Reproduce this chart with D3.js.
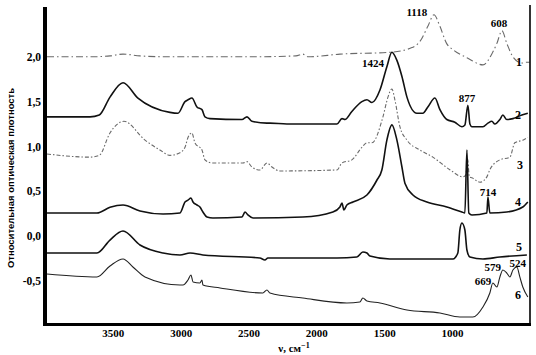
<!DOCTYPE html>
<html>
<head>
<meta charset="utf-8">
<script src="https://cdn.jsdelivr.net/npm/d3@7"></script>
<style>
  html, body { margin: 0; padding: 0; background: #fff; }
  svg { display: block; }
</style>
</head>
<body>
<svg id="chart" width="536" height="355"></svg>
<script>
// Spectra: [wavenumber, relative optical density]
var spec1 = [[3985,2.00],[3668,2.00],[3520,2.01],[3425,2.03],[3300,2.01],[3079,2.00],[2500,2.00],[2150,2.01],[2100,2.03],[2060,2.00],
  [1826,2.03],[1458,2.05],[1300,2.10],[1237,2.17],[1178,2.34],[1133,2.47],[1089,2.34],[1040,2.15],[993,2.08],[890,1.99],[772,1.91],
  [700,2.05],[669,2.15],[632,2.29],[596,2.15],[551,2.00],[485,1.93],[448,1.94],[428,1.94]];
var spec2 = [[3985,1.33],[3668,1.33],[3600,1.35],[3521,1.55],[3425,1.71],[3315,1.54],[3079,1.38],[3020,1.37],[2968,1.50],[2946,1.52],
  [2917,1.54],[2880,1.44],[2843,1.41],[2821,1.33],[2784,1.31],[2548,1.30],[2511,1.33],[2475,1.28],[2364,1.26],[2342,1.26],
  [2217,1.25],[1848,1.25],[1811,1.31],[1789,1.30],[1738,1.39],[1664,1.50],[1627,1.52],[1590,1.49],[1531,1.63],[1480,1.89],
  [1443,2.05],[1406,1.96],[1369,1.78],[1332,1.55],[1259,1.37],[1215,1.37],[1178,1.44],[1126,1.54],[1089,1.41],[1038,1.30],
  [979,1.27],[927,1.22],[905,1.24],[883,1.46],[868,1.25],[853,1.22],[772,1.22],[735,1.26],[706,1.28],[684,1.25],[647,1.30],
  [625,1.35],[596,1.30],[551,1.31],[485,1.35],[441,1.37]];
var spec3 = [[3985,0.915],[3668,0.88],[3600,0.90],[3521,1.15],[3418,1.28],[3263,1.07],[3153,0.96],[3079,0.90],[3005,0.93],
  [2968,0.99],[2946,1.10],[2917,1.15],[2895,1.04],[2843,0.96],[2821,0.85],[2769,0.815],[2541,0.815],[2511,0.83],[2475,0.77],
  [2416,0.737],[2364,0.815],[2327,0.77],[2268,0.726],[1848,0.737],[1811,0.815],[1738,0.85],[1664,0.99],[1627,1.04],[1590,1.04],
  [1509,1.33],[1472,1.55],[1443,1.64],[1421,1.52],[1384,1.22],[1332,1.07],[1237,0.96],[1141,0.88],[1016,0.74],[920,0.66],
  [898,0.68],[885,0.86],[872,0.66],[853,0.65],[794,0.60],[743,0.66],[721,0.74],[647,0.85],[573,0.88],[537,1.04],[478,1.07],[441,1.10]];
var spec4 = [[3985,0.257],[3617,0.257],[3521,0.32],[3425,0.346],[3300,0.28],[3130,0.246],[3005,0.257],[2968,0.38],[2946,0.40],
  [2924,0.424],[2909,0.38],[2880,0.346],[2858,0.324],[2836,0.268],[2806,0.212],[2762,0.201],[2548,0.212],[2526,0.268],
  [2504,0.235],[2467,0.201],[2099,0.212],[1878,0.268],[1826,0.324],[1811,0.369],[1797,0.29],[1775,0.346],[1730,0.38],
  [1627,0.458],[1553,0.625],[1517,0.737],[1480,1.07],[1443,1.24],[1406,1.07],[1369,0.77],[1347,0.59],[1288,0.458],
  [1185,0.38],[1038,0.324],[927,0.268],[905,0.257],[890,0.96],[876,0.257],[853,0.235],[743,0.257],[735,0.436],[721,0.257],
  [596,0.268],[478,0.324],[441,0.38]];
var spec5 = [[3985,-0.19],[3617,-0.19],[3521,-0.045],[3425,0.056],[3300,-0.10],[3130,-0.19],[3005,-0.212],[2931,-0.19],
  [2836,-0.212],[2416,-0.245],[2379,-0.268],[2357,-0.245],[1848,-0.245],[1701,-0.234],[1657,-0.178],[1627,-0.189],
  [1605,-0.223],[1458,-0.256],[993,-0.256],[957,-0.189],[942,0.067],[927,0.145],[905,0.067],[890,-0.156],[868,-0.234],
  [772,-0.256],[647,-0.234],[448,-0.212]];
var spec6 = [[3985,-0.424],[3617,-0.457],[3521,-0.335],[3425,-0.256],[3352,-0.346],[3263,-0.457],[3005,-0.547],[2983,-0.547],
  [2946,-0.491],[2924,-0.435],[2909,-0.513],[2858,-0.524],[2843,-0.491],[2836,-0.547],[2710,-0.58],[2394,-0.636],
  [2364,-0.602],[2342,-0.636],[2099,-0.692],[1775,-0.747],[1679,-0.736],[1657,-0.692],[1627,-0.725],[1531,-0.747],
  [1332,-0.826],[1089,-0.859],[942,-0.904],[846,-0.904],[772,-0.792],[721,-0.636],[699,-0.524],[669,-0.569],[647,-0.457],
  [625,-0.379],[596,-0.413],[573,-0.457],[551,-0.379],[522,-0.346],[500,-0.457],[478,-0.569],[441,-0.68]];

var spectra = [spec1, spec2, spec3, spec4, spec5, spec6];
var curveNames = ["1", "2", "3", "4", "5", "6"];
var curveNamePos = [[519, 1.94], [518, 1.35], [520, 0.79], [518, 0.38], [519, -0.12], [518, -0.66]];
var peakLabels = ["1118", "608", "1424", "877", "714", "669", "579", "524"];
var peakPos = [[1259, 2.50], [654, 2.37], [1583, 1.93], [890, 1.54], [735, 0.49], [772, -0.50], [699, -0.35], [515, -0.30]];
var yTicks = [-0.5, 0, 0.5, 1.0, 1.5, 2.0];
var xTicks = [3500, 3000, 2500, 2000, 1500, 1000];

var svg = d3.select("#chart");
var x = d3.scaleLinear().domain([4000, 425]).range([45, 530]);
var y = d3.scaleLinear().domain([-1, 2.5]).range([325.6, 12]);

var serif = "'Liberation Serif', 'DejaVu Serif', serif";

// ── Curves ─────────────────────────────────────────────────────────────────
var line = d3.line()
  .x(function (d) { return x(d[0]); })
  .y(function (d) { return y(d[1]); })
  .curve(d3.curveMonotoneX);

var styles = [
  { stroke: "#6a6a6a", width: 1.1, dash: "7,3,1.5,3" },
  { stroke: "#111", width: 1.6, dash: null },
  { stroke: "#6a6a6a", width: 1.1, dash: "4,2,1.5,2" },
  { stroke: "#111", width: 1.6, dash: null },
  { stroke: "#111", width: 1.6, dash: null },
  { stroke: "#222", width: 1.1, dash: null }
];

svg.append("g").selectAll("path")
  .data(spectra)
  .join("path")
  .attr("d", line)
  .attr("fill", "none")
  .attr("stroke", function (d, i) { return styles[i].stroke; })
  .attr("stroke-width", function (d, i) { return styles[i].width; })
  .attr("stroke-dasharray", function (d, i) { return styles[i].dash; })
  .attr("stroke-linejoin", "round");

// ── Axes ───────────────────────────────────────────────────────────────────
var fmt = function (v) { return d3.format(".1f")(v).replace(".", ",").replace("−", "-"); };

var yAxis = svg.append("g")
  .attr("transform", "translate(45,0)")
  .call(d3.axisLeft(y).tickValues(yTicks).tickFormat(fmt).tickSize(0).tickPadding(4));
yAxis.select(".domain").remove();
yAxis.selectAll("text")
  .attr("font-family", serif).attr("font-weight", "bold").attr("font-size", "11.5px").attr("fill", "#000");

var xAxis = svg.append("g")
  .attr("transform", "translate(0,324)")
  .call(d3.axisBottom(x).tickValues(xTicks).tickFormat(d3.format("d")).tickSize(0).tickPadding(5));
xAxis.select(".domain").remove();
xAxis.selectAll("text")
  .attr("font-family", serif).attr("font-weight", "bold").attr("font-size", "11px").attr("fill", "#000");

// frame: thick left and bottom, thin right
svg.append("line").attr("x1", 45).attr("x2", 45).attr("y1", 7).attr("y2", 326)
  .attr("stroke", "#000").attr("stroke-width", 4);
svg.append("line").attr("x1", 43).attr("x2", 531).attr("y1", 324.5).attr("y2", 324.5)
  .attr("stroke", "#000").attr("stroke-width", 3.2);
svg.append("line").attr("x1", 530).attr("x2", 530).attr("y1", 5).attr("y2", 324)
  .attr("stroke", "#000").attr("stroke-width", 1.6);

// ── Titles ─────────────────────────────────────────────────────────────────
svg.append("text")
  .attr("transform", "translate(14,178) rotate(-90)")
  .attr("text-anchor", "middle")
  .attr("font-family", "'Liberation Sans', Arial, sans-serif")
  .attr("font-weight", "bold")
  .attr("font-size", "9.5px")
  .attr("textLength", 180)
  .attr("lengthAdjust", "spacingAndGlyphs")
  .text("Относительная оптическая плотность");

var xt = svg.append("text")
  .attr("x", 294).attr("y", 352)
  .attr("text-anchor", "middle")
  .attr("font-family", serif)
  .attr("font-weight", "bold")
  .attr("font-size", "11px")
  .text("ν, см");
xt.append("tspan").attr("dy", -4).attr("font-size", "8px").text("−1");

// ── Annotations ───────────────────────────────────────────────────────────
svg.append("g").selectAll("text")
  .data(curveNames)
  .join("text")
  .attr("x", function (d, i) { return curveNamePos[i][0]; })
  .attr("y", function (d, i) { return y(curveNamePos[i][1]); })
  .attr("text-anchor", "middle")
  .attr("dy", "0.35em")
  .attr("font-family", serif).attr("font-weight", "bold").attr("font-size", "12px")
  .text(function (d) { return d; });

svg.append("g").selectAll("text")
  .data(peakLabels)
  .join("text")
  .attr("x", function (d, i) { return x(peakPos[i][0]); })
  .attr("y", function (d, i) { return y(peakPos[i][1]); })
  .attr("text-anchor", "middle")
  .attr("dy", "0.35em")
  .attr("font-family", serif).attr("font-weight", "bold").attr("font-size", "11px")
  .text(function (d) { return d; });
</script>
</body>
</html>
